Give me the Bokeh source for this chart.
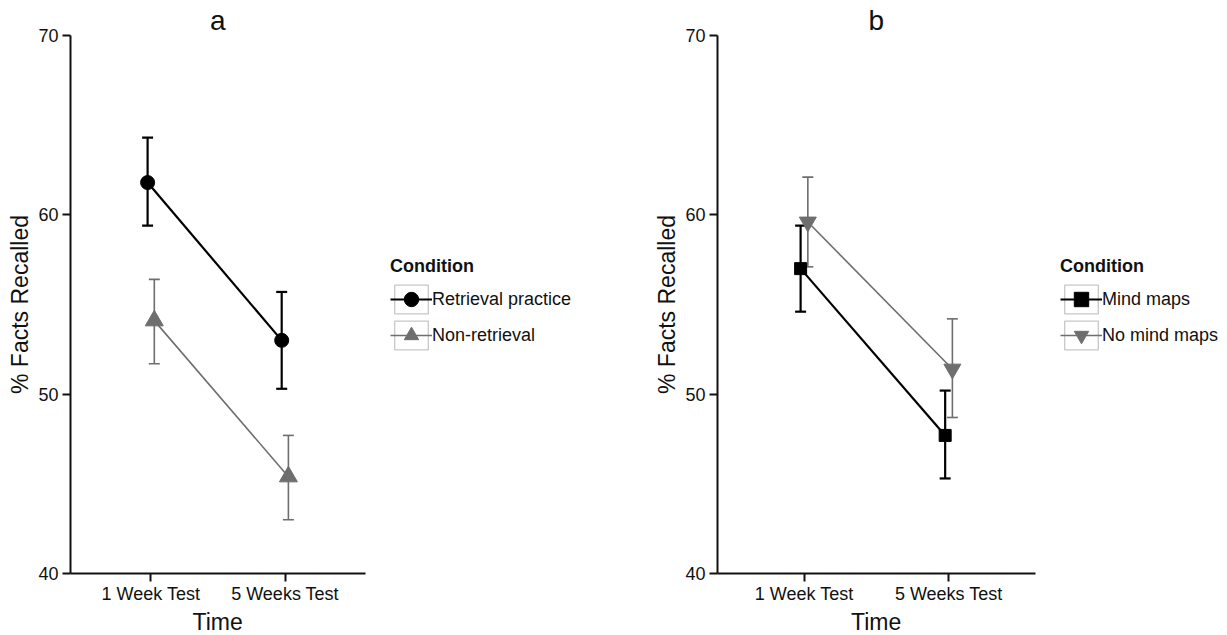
import numpy as np
from bokeh.plotting import figure
from bokeh.models import (Range1d, FixedTicker, Legend, LegendItem, ColumnDataSource,
                          Whisker, TeeHead, Title)
from bokeh.layouts import row
from bokeh.embed import file_html
from bokeh.resources import INLINE

# ---------------- data ----------------
time_labels = ["1 Week Test", "5 Weeks Test"]
y_ticks = [40, 50, 60, 70]
x_title = "Time"
y_title = "% Facts Recalled"

# panel a
a_names = ["Retrieval practice", "Non-retrieval"]
a_retrieval_mean = [61.8, 53.0]
a_retrieval_upper = [64.3, 55.7]
a_retrieval_lower = [59.4, 50.3]
a_nonretrieval_mean = [54.1, 45.4]
a_nonretrieval_upper = [56.4, 47.7]
a_nonretrieval_lower = [51.7, 43.0]

# panel b
b_names = ["Mind maps", "No mind maps"]
b_mind_mean = [57.0, 47.7]
b_mind_upper = [59.4, 50.2]
b_mind_lower = [54.6, 45.3]
b_nomind_mean = [59.6, 51.4]
b_nomind_upper = [62.1, 54.2]
b_nomind_lower = [57.1, 48.7]

FONT = "Liberation Sans"
BLACK = "#000000"
GREY = "#6e6e6e"
DODGE = 0.025
X0, X1 = 0.4, 2.6
HEIGHT = 634
TOP, BOTTOM = 35, 61


def make_panel(title, series, width, left, axis_w):
    frame_w = width - left
    frame_h = HEIGHT - TOP - BOTTOM
    x_end = X0 + (X1 - X0) * frame_w / axis_w
    p = figure(width=width, height=HEIGHT, output_backend="svg", toolbar_location=None,
               x_range=Range1d(X0, x_end), y_range=Range1d(40, 70),
               min_border_left=left, min_border_right=0,
               min_border_top=TOP, min_border_bottom=BOTTOM,
               background_fill_color="white", border_fill_color="white")
    p.outline_line_color = None
    p.xgrid.visible = False
    p.ygrid.visible = False

    # panel letter, centred over the axis part of the frame
    p.title.text = title
    p.title.align = "left"
    p.title.offset = axis_w / 2 - 8
    p.title.text_font = FONT
    p.title.text_font_size = "28px"
    p.title.text_font_style = "normal"
    p.title.text_color = "#111111"
    p.title.standoff = 0

    xpos = np.arange(1, len(time_labels) + 1, dtype=float)
    p.xaxis.ticker = FixedTicker(ticks=list(xpos))
    p.xaxis.major_label_overrides = {float(v): lab for v, lab in zip(xpos, time_labels)}
    p.xaxis.bounds = (X0, X1)
    p.yaxis.ticker = FixedTicker(ticks=y_ticks)
    p.yaxis.axis_label = y_title
    for ax in (p.xaxis[0], p.yaxis[0]):
        ax.axis_line_width = 2
        ax.axis_line_color = "#111111"
        ax.major_tick_line_width = 2
        ax.major_tick_line_color = "#111111"
        ax.major_tick_in = 0
        ax.major_tick_out = 8
        ax.minor_tick_in = 0
        ax.minor_tick_out = 0
        ax.major_label_text_font = FONT
        ax.major_label_text_font_size = "18px"
        ax.major_label_text_color = "#111111"
        ax.axis_label_text_font = FONT
        ax.axis_label_text_font_size = "23px"
        ax.axis_label_text_font_style = "normal"
        ax.axis_label_text_color = "#111111"
    p.xaxis.major_label_standoff = 2
    p.yaxis.major_label_standoff = 4
    p.yaxis.axis_label_standoff = 2

    # x-axis title, centred under the axis part of the frame
    xt = Title(text=x_title, align="left", offset=axis_w / 2 - 25.5,
               text_font=FONT, text_font_size="23px", text_font_style="normal",
               text_color="#111111", standoff=0)
    p.add_layout(xt, "below")

    items = []
    for (name, mean, upper, lower, color, marker, msize, lw, offset) in series:
        src = ColumnDataSource(dict(x=xpos + offset, y=mean, upper=upper, lower=lower))
        line_r = p.line("x", "y", source=src, line_color=color, line_width=lw)
        wh = Whisker(base="x", upper="upper", lower="lower", source=src, dimension="height",
                     line_color=color, line_width=lw,
                     upper_head=TeeHead(size=11, line_color=color, line_width=lw),
                     lower_head=TeeHead(size=11, line_color=color, line_width=lw))
        p.add_layout(wh)
        pt_r = p.scatter("x", "y", source=src, marker=marker, size=msize,
                         fill_color=color, line_color=color)
        box_r = p.rect(x=[np.nan], y=[np.nan], width=1, height=1, fill_alpha=0,
                       line_color="#c8c8c8", line_width=1.3)
        items.append(LegendItem(label=name, renderers=[box_r, line_r, pt_r]))

    legend = Legend(items=items, title="Condition",
                    location=(axis_w + 25, frame_h - 318),
                    title_text_font=FONT, title_text_font_size="18px",
                    title_text_font_style="bold", title_text_color="#111111",
                    label_text_font=FONT, label_text_font_size="18px",
                    label_text_color="#111111",
                    glyph_width=42, glyph_height=36, spacing=0, padding=0,
                    margin=0, label_standoff=0, title_standoff=4,
                    border_line_alpha=0, background_fill_alpha=0)
    p.add_layout(legend)
    return p


pa = make_panel("a", [
    (a_names[0], a_retrieval_mean, a_retrieval_upper, a_retrieval_lower, BLACK, "circle", 14, 2.2, -DODGE),
    (a_names[1], a_nonretrieval_mean, a_nonretrieval_upper, a_nonretrieval_lower, GREY, "triangle", 18, 1.6, DODGE),
], width=647, left=70, axis_w=295)

pb = make_panel("b", [
    (b_names[0], b_mind_mean, b_mind_upper, b_mind_lower, BLACK, "square", 12, 2.2, -DODGE),
    (b_names[1], b_nomind_mean, b_nomind_upper, b_nomind_lower, GREY, "inverted_triangle", 17, 1.6, DODGE),
], width=578, left=70, axis_w=318)

layout = row(pa, pb)
open("out.html", "w").write(file_html(layout, INLINE))
